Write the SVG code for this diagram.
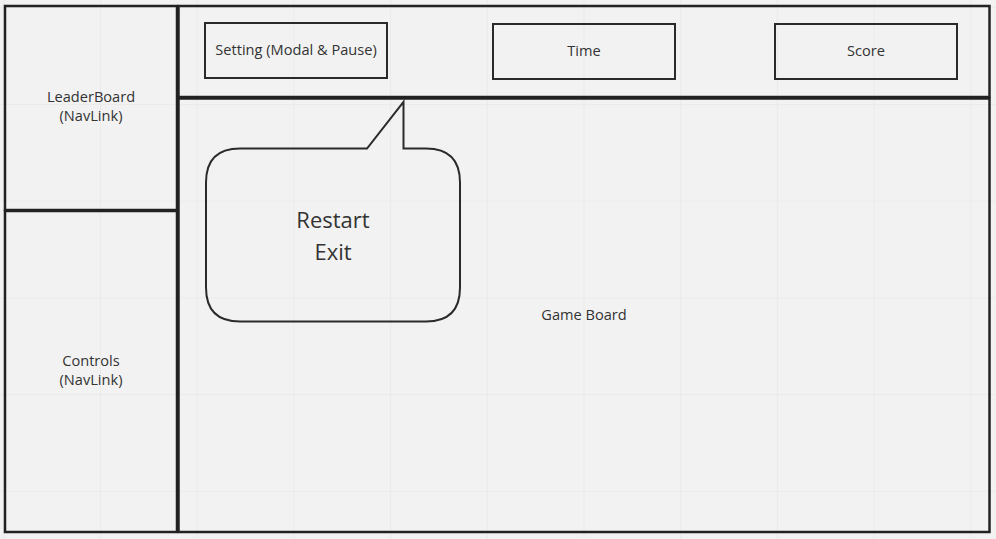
<svg xmlns="http://www.w3.org/2000/svg" width="996" height="539" viewBox="0 0 996 539">
<defs>
<pattern id="grid" x="3.3" y="7.3" width="96.7" height="96.7" patternUnits="userSpaceOnUse">
<path d="M0 0 H96.7 M0 0 V96.7" fill="none" stroke="#e4e4e4" stroke-width="1"/>
</pattern>
<style>
.box{fill:none;stroke:#222;stroke-width:2.5}
.inner{fill:none;stroke:#2a2a2a;stroke-width:2}
.t{font-family:"Open Sans","Noto Sans",sans-serif;font-size:14.6px;fill:#333;text-anchor:middle}
.big{font-family:"Open Sans","Noto Sans",sans-serif;font-size:22px;fill:#333;text-anchor:middle}
</style>
</defs>
<rect width="996" height="539" fill="#f2f2f2"/>
<rect width="996" height="539" fill="url(#grid)"/>
<g id="leaderboard">
<rect class="box" x="5" y="6" width="172" height="204"/>
<text class="t" x="91" y="102">LeaderBoard</text>
<text class="t" x="91" y="121">(NavLink)</text>
</g>
<g id="controls">
<rect class="box" x="5" y="211" width="172" height="321"/>
<text class="t" x="91" y="366">Controls</text>
<text class="t" x="91" y="385">(NavLink)</text>
</g>
<g id="header">
<rect class="box" x="178.5" y="6" width="811" height="91"/>
</g>
<g id="setting">
<rect class="inner" x="205" y="23" width="182" height="55"/>
<text class="t" x="296" y="55">Setting (Modal &amp; Pause)</text>
</g>
<g id="time">
<rect class="inner" x="493" y="24" width="182" height="55"/>
<text class="t" x="584" y="56">Time</text>
</g>
<g id="score">
<rect class="inner" x="775" y="24" width="182" height="55"/>
<text class="t" x="866" y="56">Score</text>
</g>
<g id="gameboard">
<rect class="box" x="178.5" y="98.5" width="811" height="433.5"/>
<text class="t" x="584" y="320">Game Board</text>
</g>
<g id="callout">
<path class="inner" d="M240 148.5 H367 L403.5 102 V148.5 H426 Q460 148.5 460 182.5 V287.5 Q460 321.5 426 321.5 H240 Q206 321.5 206 287.5 V182.5 Q206 148.5 240 148.5 Z"/>
<text class="big" x="333" y="228">Restart</text>
<text class="big" x="333" y="260">Exit</text>
</g>
<g id="connectors"></g>
</svg>
